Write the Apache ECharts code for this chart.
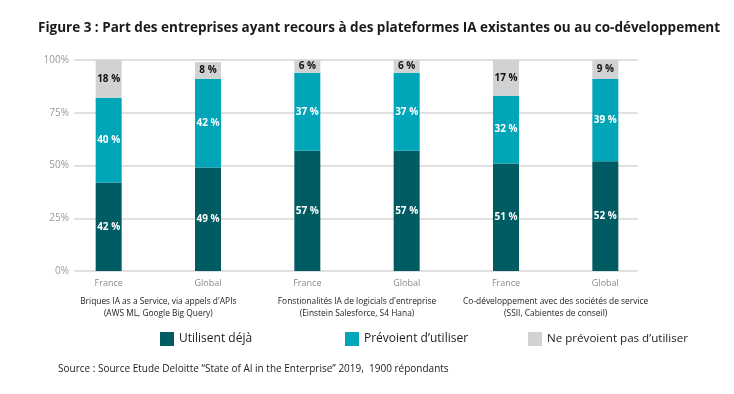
<!DOCTYPE html>
<html><head><meta charset="utf-8">
<script src="https://cdn.jsdelivr.net/npm/echarts@6/dist/echarts.min.js"></script>
<style>html,body{margin:0;padding:0;background:#fff}#c{width:734px;height:394px}</style>
</head><body><div id="c"></div>
<script>
const categories = ['France','Global','France','Global','France','Global'];
const groups = ["Briques IA as a Service, via appels d'APIs\n(AWS ML, Google Big Query)",
  "Fonstionalités IA de logicials d'entreprise\n(Einstein Salesforce, S4 Hana)",
  "Co-développement avec des sociétés de service\n(SSII, Cabientes de conseil)"];
const utilisent = [42,49,57,57,51,52];
const prevoient = [40,42,37,37,32,39];
const nePrevoient = [18,8,6,6,17,9];
const yTicks = [0,25,50,75,100];
const seriesNames = ['Utilisent déjà','Prévoient d\u2019utiliser','Ne prévoient pas d\u2019utiliser'];
const colors = ['#005C62','#00A5B8','#D1D2D4'];
const font = '"Open Sans", sans-serif';

const chart = echarts.init(document.getElementById('c'));
function lbl(color){return {show:true,position:'inside',formatter:'{c} %',color:color,fontFamily:font,fontWeight:'bold',fontSize:10};}
const legTxt = {fontFamily:font,fontSize:12,color:'#222'};
chart.setOption({
  animation:false,
  title:{text:'Figure 3 : Part des entreprises ayant recours à des plateformes IA existantes ou au co-développement',
    left:33,top:16,textStyle:{fontFamily:font,fontWeight:'bold',fontSize:13.5,color:'#1a1a1a'}},
  graphic:[{type:'text',left:58,top:364,style:{text:'Source : Source Etude Deloitte \u201cState of AI in the Enterprise\u201d 2019,  1900 répondants',
    font:'10px "Open Sans", sans-serif',fill:'#222'}}],
  legend:[
    {data:[seriesNames[0]],left:155,top:327,itemWidth:14,itemHeight:14,icon:'rect',textStyle:legTxt},
    {data:[seriesNames[1]],left:340,top:327,itemWidth:14,itemHeight:14,icon:'rect',textStyle:legTxt},
    {data:[seriesNames[2]],left:523,top:327,itemWidth:14,itemHeight:14,icon:'rect',textStyle:{fontFamily:font,fontSize:11.6,color:'#222'}}
  ],
  grid:[{left:74,right:96,top:60,bottom:123},{left:59,right:79,top:60,bottom:123}],
  xAxis:[
    {gridIndex:0,type:'category',data:categories,show:false},
    {gridIndex:1,type:'category',data:categories,axisLine:{show:false},axisTick:{show:false},
      axisLabel:{color:'#8a8a8a',fontFamily:font,fontSize:9,margin:8}},
    {gridIndex:1,type:'category',data:groups,position:'bottom',axisLine:{show:false},axisTick:{show:false},
      axisLabel:{color:'#222',fontFamily:font,fontSize:8.4,margin:25,lineHeight:12,interval:0}}
  ],
  yAxis:[
    {gridIndex:0,type:'value',min:0,max:100,interval:25,
      axisLabel:{formatter:'{value}%',color:'#999',fontFamily:font,fontSize:10,margin:5},
      axisLine:{show:false},axisTick:{show:false},
      splitLine:{lineStyle:{color:'#d6d6d6',width:1.5}}},
    {gridIndex:1,type:'value',min:0,max:100,show:false,splitLine:{show:false}}
  ],
  series:[
    {name:seriesNames[0],type:'bar',stack:'s',xAxisIndex:1,yAxisIndex:1,barWidth:26,data:utilisent,itemStyle:{color:colors[0]},label:lbl('#fff')},
    {name:seriesNames[1],type:'bar',stack:'s',xAxisIndex:1,yAxisIndex:1,barWidth:26,data:prevoient,itemStyle:{color:colors[1]},label:lbl('#fff')},
    {name:seriesNames[2],type:'bar',stack:'s',xAxisIndex:1,yAxisIndex:1,barWidth:26,data:nePrevoient,itemStyle:{color:colors[2]},label:lbl('#111')}
  ]
});
</script></body></html>
